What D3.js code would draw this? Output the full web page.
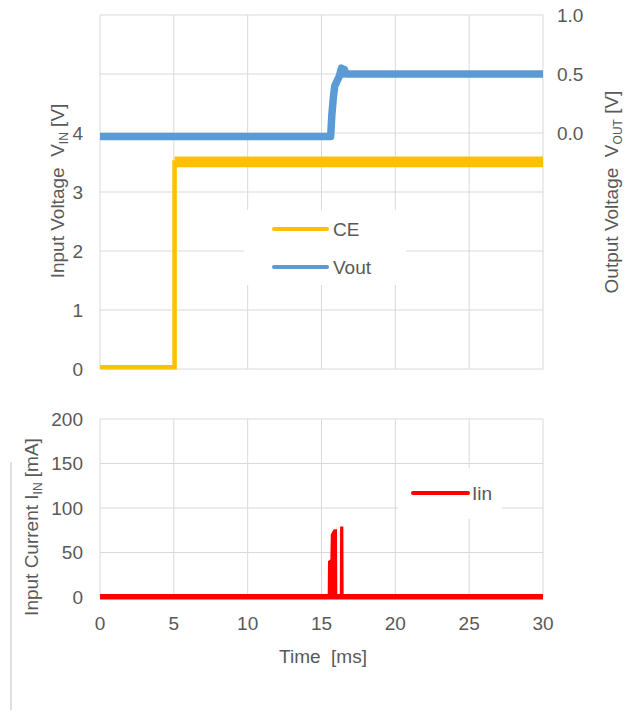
<!DOCTYPE html>
<html>
<head>
<meta charset="utf-8">
<script src="https://cdn.jsdelivr.net/npm/d3@7"></script>
<style>
  body { margin: 0; background: #fff; }
  svg text { font-family: "Liberation Sans", Arial, sans-serif; fill: #595959; white-space: pre; }
</style>
</head>
<body>
<div id="chart"></div>
<script>
// time axis [ms]
const timeTicks = [0, 5, 10, 15, 20, 25, 30];

// CE (left axis, V)
const ceTime = [0, 5.05, 5.05, 30];
const ceValue = [0.03, 0.03, 3.5, 3.5];
const ceRippleTime = [5.05, 30];
const ceRippleLow = [3.42, 3.42];
const ceRippleHigh = [3.6, 3.6];

// Vout (right axis, V)
const voutTime = [0, 15.62, 15.7, 15.8, 15.9, 16.05, 16.2, 16.35, 16.45, 16.55, 16.65, 30];
const voutValue = [-0.03, -0.03, 0.15, 0.3, 0.4, 0.44, 0.48, 0.55, 0.5, 0.54, 0.5, 0.5];

// Iin (mA)
const iinTime = [0, 15.42, 15.44, 15.6, 15.63, 15.75, 15.85, 16.05, 16.07, 16.24, 16.26, 16.48, 16.5, 30];
const iinValue = [1, 1, 38, 40, 68, 72, 74, 74, 1, 1, 77, 77, 1, 1];

const leftTicks = [0, 1, 2, 3, 4];
const leftGrid = [1, 2, 3, 4, 5, 6];
const rightTicks = [0, 0.5, 1.0];
const iinTicks = [0, 50, 100, 150, 200];

const W = 633, H = 713;
const gridColor = '#d9d9d9';
const svg = d3.select('#chart').append('svg').attr('width', W).attr('height', H);

const x = d3.scaleLinear().domain([0, 30]).range([100, 543]);
const yL = d3.scaleLinear().domain([0, 6]).range([369, 15]);
const yR = d3.scaleLinear().domain([-2, 1]).range([369, 15]);
const yI = d3.scaleLinear().domain([0, 200]).range([597, 419]);

// ---- top panel grid
const topG = svg.append('g');
topG.selectAll('.vg').data(timeTicks).enter().append('line')
  .attr('x1', d => x(d)).attr('x2', d => x(d))
  .attr('y1', yL(6)).attr('y2', yL(0))
  .attr('stroke', gridColor).attr('stroke-width', 1);
topG.selectAll('.hg').data(leftGrid).enter().append('line')
  .attr('x1', x(0)).attr('x2', x(30))
  .attr('y1', d => yL(d)).attr('y2', d => yL(d))
  .attr('stroke', gridColor).attr('stroke-width', 1);
topG.append('line').attr('x1', x(0)).attr('x2', x(30)).attr('y1', yL(0)).attr('y2', yL(0))
  .attr('stroke', gridColor);

// legend box top (covers grid)
topG.append('rect').attr('x', 244).attr('y', 210).attr('width', 162).attr('height', 75).attr('fill', '#fff');

// CE ripple band + line
const ceBand = d3.area()
  .x((d, i) => x(ceRippleTime[i]))
  .y0((d, i) => yL(ceRippleLow[i]))
  .y1((d, i) => yL(ceRippleHigh[i]));
topG.append('path').datum(ceRippleTime).attr('d', ceBand).attr('fill', '#ffc000');
const ceLine = d3.line().x((d, i) => x(ceTime[i])).y((d, i) => yL(ceValue[i]));
topG.append('path').datum(ceTime).attr('d', ceLine)
  .attr('fill', 'none').attr('stroke', '#ffc000').attr('stroke-width', 4.5);

// Vout
const voutLine = d3.line().x((d, i) => x(voutTime[i])).y((d, i) => yR(voutValue[i]));
topG.append('path').datum(voutTime).attr('d', voutLine)
  .attr('fill', 'none').attr('stroke', '#5b9bd5').attr('stroke-width', 7.5)
  .attr('stroke-linejoin', 'round');

// left ticks
topG.selectAll('.lt').data(leftTicks).enter().append('text')
  .attr('x', 83).attr('y', d => yL(d)).attr('dy', '0.35em')
  .attr('text-anchor', 'end').style('font-size', '19px')
  .text(d => d3.format('d')(d));
// right ticks
topG.selectAll('.rt').data(rightTicks).enter().append('text')
  .attr('x', 557).attr('y', d => yR(d)).attr('dy', '0.35em')
  .style('font-size', '19px')
  .text(d => d3.format('.1f')(d));

// axis titles
const lt = topG.append('text')
  .attr('transform', 'translate(57,191) rotate(-90)')
  .attr('text-anchor', 'middle').attr('dy', '0.35em').style('font-size', '19px');
lt.append('tspan').text('Input Voltage  V');
lt.append('tspan').attr('dy', '4').style('font-size', '12px').text('IN');
lt.append('tspan').attr('dy', '-4').text(' [V]');

const rt = topG.append('text')
  .attr('transform', 'translate(611,192) rotate(-90)')
  .attr('text-anchor', 'middle').attr('dy', '0.35em').style('font-size', '19px');
rt.append('tspan').text('Output Voltage  V');
rt.append('tspan').attr('dy', '4').style('font-size', '12px').text('OUT');
rt.append('tspan').attr('dy', '-4').text(' [V]');

// top legend
const legendTop = [
  { name: 'CE', color: '#ffc000', y: 229 },
  { name: 'Vout', color: '#5b9bd5', y: 267 }
];
legendTop.forEach(l => {
  topG.append('line').attr('x1', 274).attr('x2', 327).attr('y1', l.y).attr('y2', l.y)
    .attr('stroke', l.color).attr('stroke-width', 4).attr('stroke-linecap', 'round');
  topG.append('text').attr('x', 333).attr('y', l.y).attr('dy', '0.36em')
    .style('font-size', '19px').text(l.name);
});

// ---- bottom panel
const bot = svg.append('g');
bot.selectAll('.vg').data(timeTicks.slice(1)).enter().append('line')
  .attr('x1', d => x(d)).attr('x2', d => x(d))
  .attr('y1', yI(200)).attr('y2', yI(0))
  .attr('stroke', gridColor);
bot.selectAll('.hg').data(iinTicks.slice(1)).enter().append('line')
  .attr('x1', x(0)).attr('x2', x(30))
  .attr('y1', d => yI(d)).attr('y2', d => yI(d))
  .attr('stroke', gridColor);
bot.append('line').attr('x1', x(0)).attr('x2', x(0)).attr('y1', yI(200)).attr('y2', yI(0))
  .attr('stroke', gridColor);
bot.append('line').attr('x1', x(0)).attr('x2', x(30)).attr('y1', yI(0)).attr('y2', yI(0))
  .attr('stroke', gridColor);

// legend box bottom
bot.append('rect').attr('x', 398).attr('y', 468).attr('width', 104).attr('height', 51).attr('fill', '#fff');

// Iin drawn as a filled trace (thick baseline, crisp spikes)
const iinArea = d3.area()
  .x((d, i) => x(iinTime[i]))
  .y0(yI(0) + 2.5)
  .y1((d, i) => yI(iinValue[i]) - 2);
bot.append('path').datum(iinTime).attr('d', iinArea).attr('fill', '#ff0000');

bot.selectAll('.it').data(iinTicks).enter().append('text')
  .attr('x', 83).attr('y', d => yI(d)).attr('dy', '0.35em')
  .attr('text-anchor', 'end').style('font-size', '19px')
  .text(d => d);
bot.selectAll('.xt').data(timeTicks).enter().append('text')
  .attr('x', d => x(d)).attr('y', 623).attr('dy', '0.35em')
  .attr('text-anchor', 'middle').style('font-size', '19px')
  .text(d => d);
bot.append('text').attr('x', 323).attr('y', 656).attr('dy', '0.35em')
  .attr('text-anchor', 'middle').style('font-size', '19px').text('Time  [ms]');

const it = bot.append('text')
  .attr('transform', 'translate(31,527) rotate(-90)')
  .attr('text-anchor', 'middle').attr('dy', '0.35em').style('font-size', '19px');
it.append('tspan').text('Input Current I');
it.append('tspan').attr('dy', '4').style('font-size', '12px').text('IN');
it.append('tspan').attr('dy', '-4').text(' [mA]');

bot.append('line').attr('x1', 413).attr('x2', 468).attr('y1', 493).attr('y2', 493)
  .attr('stroke', '#ff0000').attr('stroke-width', 4).attr('stroke-linecap', 'round');
bot.append('text').attr('x', 472).attr('y', 493).attr('dy', '0.36em')
  .style('font-size', '19px').text('Iin');

// stray border line at far left
svg.append('line').attr('x1', 11).attr('x2', 11).attr('y1', 462).attr('y2', 710)
  .attr('stroke', '#bfbfbf');
</script>
</body>
</html>
